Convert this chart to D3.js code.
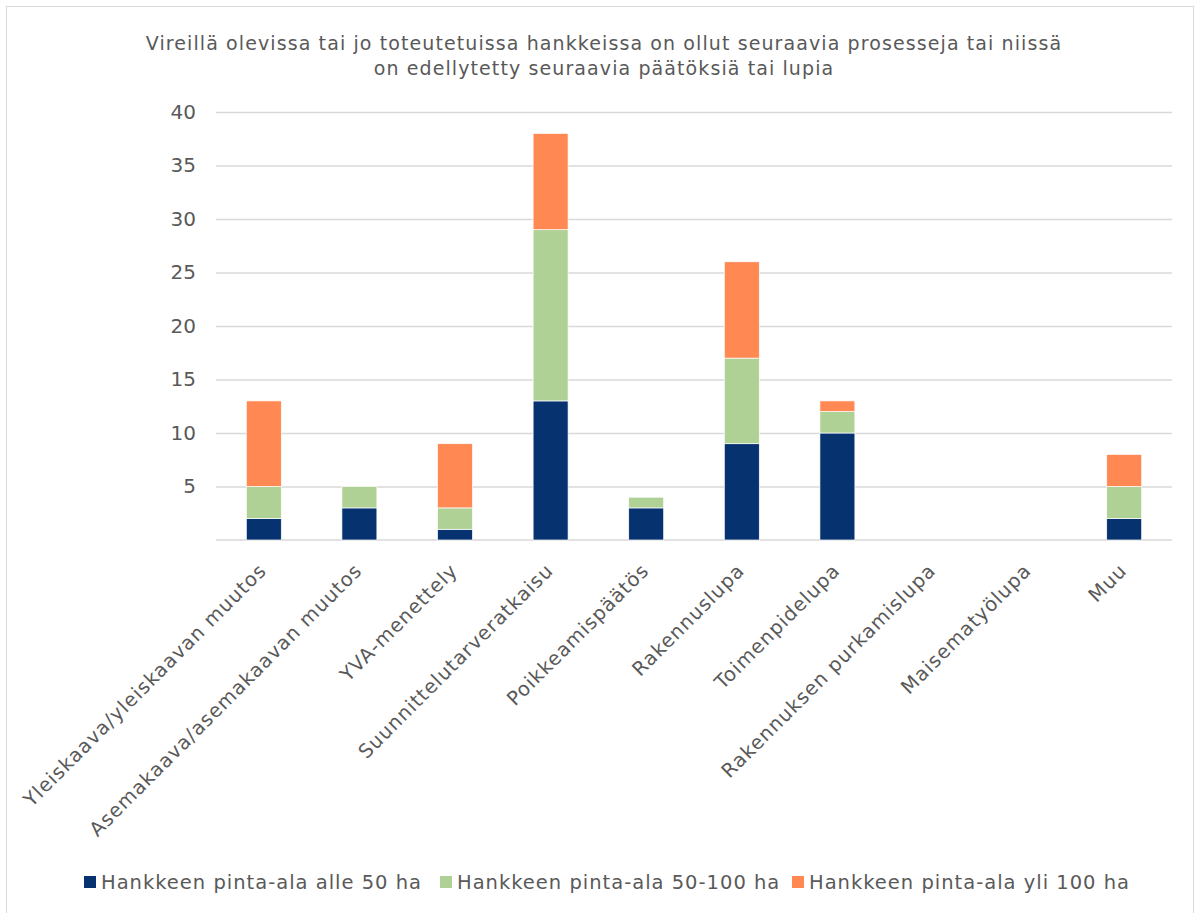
<!DOCTYPE html>
<html>
<head>
<meta charset="utf-8">
<script src="https://cdn.jsdelivr.net/npm/d3@7"></script>
<style>
  body { margin: 0; background: #fff; }
  text { font-family: "DejaVu Sans", Verdana, sans-serif; fill: #595959; }
</style>
</head>
<body>
<div id="chart"></div>
<script>
// Chart data
let categories = [
    "Yleiskaava/yleiskaavan muutos",
    "Asemakaava/asemakaavan muutos",
    "YVA-menettely",
    "Suunnittelutarveratkaisu",
    "Poikkeamispäätös",
    "Rakennuslupa",
    "Toimenpidelupa",
    "Rakennuksen purkamislupa",
    "Maisematyölupa",
    "Muu"
];
let seriesNames = [
    "Hankkeen pinta-ala alle 50 ha",
    "Hankkeen pinta-ala 50-100 ha",
    "Hankkeen pinta-ala yli 100 ha"
];
let under50 = [2, 3, 1, 13, 3, 9, 10, 0, 0, 2];
let from50to100 = [3, 2, 2, 16, 1, 8, 2, 0, 0, 3];
let over100 = [8, 0, 6, 9, 0, 9, 1, 0, 0, 3];
let yTicks = [5, 10, 15, 20, 25, 30, 35, 40];
let titleLines = [
    "Vireillä olevissa tai jo toteutetuissa hankkeissa on ollut seuraavia prosesseja tai niissä",
    "on edellytetty seuraavia päätöksiä tai lupia"
];

let colors = ["#073270", "#AFD196", "#FF8853"];

let width = 1200;
let height = 913;
let plotLeft = 216;
let plotRight = 1172;
let plotTop = 112;
let plotBottom = 540;

// build rows for the stack layout
let table = categories.map((c, i) => ({
    cat: c,
    s0: under50[i],
    s1: from50to100[i],
    s2: over100[i]
}));
let stacked = d3.stack().keys(["s0", "s1", "s2"])(table);

let svg = d3.select("#chart")
    .append("svg")
    .attr("width", width)
    .attr("height", height);

// outer frame
svg.append("rect")
    .attr("x", 6.5)
    .attr("y", 6.5)
    .attr("width", 1187)
    .attr("height", 920)
    .style("fill", "none")
    .style("stroke", "#d9d9d9");

let x = d3.scaleBand()
    .domain(categories)
    .range([plotLeft, plotRight])
    .paddingInner(0.634)
    .paddingOuter(0.317);

let y = d3.scaleLinear()
    .domain([0, 40])
    .range([plotBottom, plotTop]);

// title (Verdana is wider than DejaVu, so a little letter spacing)
svg.append("g")
    .selectAll("text")
    .data(titleLines)
    .enter().append("text")
    .attr("x", 604)
    .attr("y", (d, i) => 50 + i * 25)
    .attr("text-anchor", "middle")
    .style("font-size", "19px")
    .style("letter-spacing", "1.1px")
    .text(d => d);

// gridlines + y labels
let yAxis = svg.append("g")
    .attr("transform", `translate(${plotLeft},0)`)
    .call(d3.axisLeft(y).tickValues(yTicks).tickSize(-(plotRight - plotLeft)).tickPadding(20));
yAxis.select(".domain").remove();
yAxis.selectAll(".tick line").style("stroke", "#d9d9d9").style("stroke-width", 1.3);
yAxis.selectAll(".tick text")
    .style("font-size", "20px")
    .style("fill", "#595959")
    .style("font-family", "'DejaVu Sans', Verdana, sans-serif");

// baseline
svg.append("line")
    .attr("x1", plotLeft)
    .attr("x2", plotRight)
    .attr("y1", y(0))
    .attr("y2", y(0))
    .style("stroke", "#d9d9d9")
    .style("stroke-width", 1.5);

// bars
svg.append("g")
    .selectAll("g")
    .data(stacked)
    .enter().append("g")
    .style("fill", (d, i) => colors[i])
    .selectAll("rect")
    .data(d => d)
    .enter().append("rect")
    .attr("x", d => x(d.data.cat))
    .attr("y", d => y(d[1]))
    .attr("width", x.bandwidth())
    .attr("height", d => y(d[0]) - y(d[1]))
    .style("stroke", "#ffffff")
    .style("stroke-width", 0.7);

// category labels, rotated
svg.append("g")
    .selectAll("text")
    .data(categories)
    .enter().append("text")
    .attr("text-anchor", "end")
    .attr("transform", d => {
        let cx = x(d) + x.bandwidth() / 2 - 1;
        return `translate(${cx},${plotBottom + 27}) rotate(-45)`;
    })
    .attr("dy", "0.35em")
    .style("font-size", "19.5px")
    .style("letter-spacing", "1px")
    .text(d => d);

// legend
let legendX = [84, 440, 792];
let legend = svg.append("g")
    .selectAll("g")
    .data(seriesNames)
    .enter().append("g")
    .attr("transform", (d, i) => `translate(${legendX[i]},882)`);
legend.append("rect")
    .attr("x", 0)
    .attr("y", -6)
    .attr("width", 12)
    .attr("height", 12)
    .style("fill", (d, i) => colors[i]);
legend.append("text")
    .attr("x", 17)
    .attr("dy", "0.35em")
    .style("font-size", "19.5px")
    .style("letter-spacing", "1px")
    .text(d => d);
</script>
</body>
</html>
